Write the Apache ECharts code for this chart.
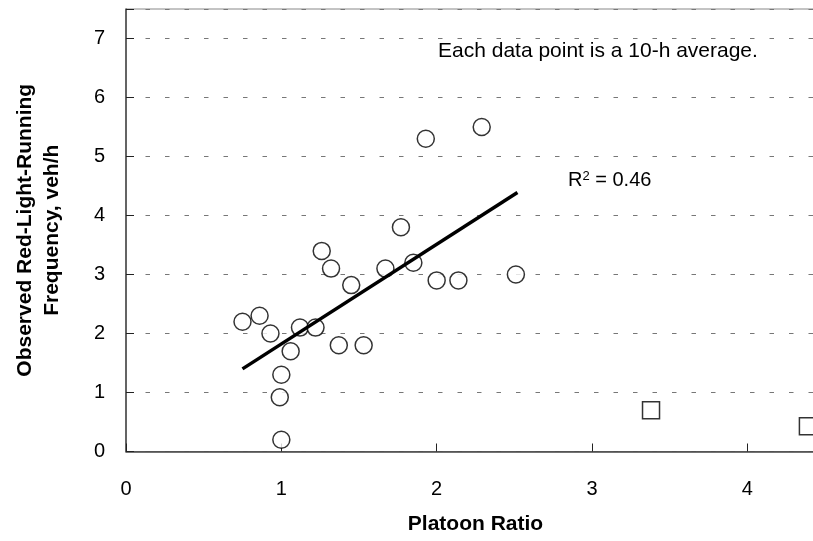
<!DOCTYPE html>
<html>
<head>
<meta charset="utf-8">
<script src="https://cdn.jsdelivr.net/npm/echarts@6/dist/echarts.min.js"></script>
<style>
  html, body { margin: 0; padding: 0; background: #fff; }
  #chart { width: 813px; height: 541px; }
</style>
</head>
<body>
<div id="chart"></div>
<script>
// Observed sites (circles): platoon ratio vs. red-light-running frequency
const platoonRatio = [0.75, 0.86, 0.93, 1.06, 1.00, 0.99, 1.00, 1.12, 1.22, 1.26, 1.32,
                      1.45, 1.37, 1.53, 1.67, 1.77, 1.85, 2.00, 1.93, 2.29, 2.14, 2.51];
const rlrFrequency = [2.2, 2.3, 2.0, 1.7, 1.3, 0.92, 0.2, 2.1, 2.1, 3.4, 3.1,
                      2.82, 1.8, 1.8, 3.1, 3.8, 3.2, 2.9, 5.3, 5.5, 2.9, 3.0];

// Sites shown with squares
const outlierRatio = [3.38, 4.39];
const outlierFrequency = [0.70, 0.43];

// Fitted trend line endpoints
const trendRatio = [0.75, 2.52];
const trendFrequency = [1.40, 4.39];

const rSquared = '0.46';
const xTicks = [0, 1, 2, 3, 4];
const yTicks = [0, 1, 2, 3, 4, 5, 6, 7];

const zip = (xs, ys) => xs.map((x, i) => [x, ys[i]]);
const FONT = '"Liberation Sans", Arial, sans-serif';

const chart = echarts.init(document.getElementById('chart'), null, { renderer: 'canvas' });

chart.setOption({
  backgroundColor: '#ffffff',
  animation: false,
  grid: {
    left: 126, top: 9, width: 699, height: 442.5,
    outerBoundsMode: 'none',
    show: true, borderColor: '#888', borderWidth: 1, backgroundColor: 'transparent'
  },
  xAxis: {
    type: 'value', min: 0, max: 4.5, interval: 1,
    name: 'Platoon Ratio', nameLocation: 'middle', nameGap: 62,
    nameTextStyle: { fontFamily: FONT, fontSize: 21, fontWeight: 'bold', color: '#000' },
    axisLine: { show: true, onZero: false, lineStyle: { color: '#444', width: 1.5 } },
    axisTick: { show: true, inside: true, length: 8, lineStyle: { color: '#222', width: 1 } },
    axisLabel: {
      margin: 28, fontFamily: FONT, fontSize: 20, color: '#000',
      formatter: v => xTicks.includes(v) ? String(v) : ''
    },
    splitLine: { show: false }
  },
  yAxis: {
    type: 'value', min: 0, max: 7.5, interval: 1,
    name: 'Observed Red-Light-Running\nFrequency, veh/h', nameLocation: 'middle', nameGap: 60,
    nameTextStyle: { fontFamily: FONT, fontSize: 21, fontWeight: 'bold', color: '#000', lineHeight: 27 },
    axisLine: { show: true, onZero: false, lineStyle: { color: '#444', width: 1.5 } },
    axisTick: { show: true, inside: true, length: 8, lineStyle: { color: '#222', width: 1 } },
    axisLabel: {
      margin: 21, fontFamily: FONT, fontSize: 20, color: '#000',
      formatter: v => yTicks.includes(v) ? String(v) : ''
    },
    splitLine: {
      show: true,
      lineStyle: { color: '#777', width: 1, type: [4.5, 15] }
    }
  },
  series: [
    {
      type: 'scatter', name: 'Sites',
      data: zip(platoonRatio, rlrFrequency),
      symbol: 'circle', symbolSize: 17,
      itemStyle: { color: '#fff', borderColor: '#000', borderWidth: 1.5 },
      z: 2
    },
    {
      type: 'scatter', name: 'Other sites',
      data: zip(outlierRatio, outlierFrequency),
      symbol: 'rect', symbolSize: 17,
      itemStyle: { color: '#fff', borderColor: '#000', borderWidth: 1.5 },
      z: 2
    },
    {
      type: 'line', name: 'Trend',
      data: zip(trendRatio, trendFrequency),
      showSymbol: false, symbol: 'none',
      lineStyle: { color: '#000', width: 3.5 },
      z: 3
    }
  ],
  graphic: [
    {
      type: 'text', left: 438, top: 41,
      style: { text: 'Each data point is a 10-h average.', font: '21px ' + FONT, fill: '#000' }
    },
    {
      type: 'text', left: 568, top: 170,
      style: {
        text: 'R{sup|2} = ' + rSquared,
        font: '20px ' + FONT, fill: '#000',
        rich: { sup: { fontSize: 13, fontFamily: FONT, verticalAlign: 'top', padding: [0, 0, 8, 0] } }
      }
    }
  ]
});
</script>
</body>
</html>
